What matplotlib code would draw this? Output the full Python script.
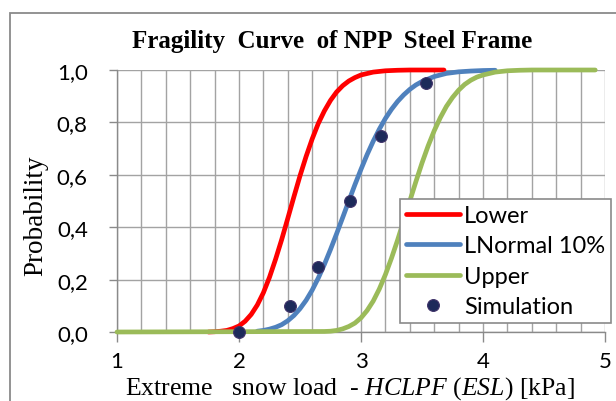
import matplotlib
matplotlib.use("Agg")
import matplotlib.pyplot as plt
from matplotlib.patches import Rectangle
from matplotlib.ticker import MultipleLocator, FixedLocator

# -----------------------------------------------------------------------------
# Fragility curve data
# -----------------------------------------------------------------------------
lower_x = [1.75, 1.80, 1.85, 1.90, 1.95, 2.00, 2.05, 2.10, 2.15, 2.20, 2.25,
           2.30, 2.35, 2.40, 2.45, 2.50, 2.55, 2.60, 2.65, 2.70, 2.75, 2.80,
           2.85, 2.90, 2.95, 3.00, 3.10, 3.20, 3.30, 3.40, 3.50, 3.68]
lower_y = [0.000, 0.001, 0.003, 0.006, 0.013, 0.023, 0.041, 0.067, 0.103,
           0.150, 0.209, 0.278, 0.353, 0.434, 0.516, 0.596, 0.670, 0.737,
           0.796, 0.844, 0.884, 0.916, 0.940, 0.958, 0.971, 0.981, 0.992,
           0.997, 0.999, 1.000, 1.000, 1.000]

lnormal_x = [2.15, 2.20, 2.25, 2.30, 2.35, 2.40, 2.45, 2.50, 2.55, 2.60, 2.65,
             2.70, 2.75, 2.80, 2.85, 2.90, 2.95, 3.00, 3.05, 3.10, 3.15, 3.20,
             3.25, 3.30, 3.35, 3.40, 3.45, 3.50, 3.60, 3.70, 3.80, 3.90, 4.00,
             4.10]
lnormal_y = [0.003, 0.006, 0.011, 0.018, 0.028, 0.043, 0.063, 0.089, 0.121,
             0.160, 0.206, 0.258, 0.315, 0.375, 0.437, 0.500, 0.562, 0.621,
             0.677, 0.728, 0.774, 0.815, 0.850, 0.880, 0.905, 0.926, 0.943,
             0.956, 0.975, 0.987, 0.993, 0.996, 0.998, 0.999]

upper_x = [1.00, 2.70, 2.75, 2.80, 2.85, 2.90, 2.95, 3.00, 3.05, 3.10, 3.15,
           3.20, 3.25, 3.30, 3.35, 3.40, 3.45, 3.50, 3.55, 3.60, 3.65, 3.70,
           3.75, 3.80, 3.85, 3.90, 3.95, 4.00, 4.10, 4.20, 4.30, 4.40, 4.92]
upper_y = [0.000, 0.002, 0.003, 0.006, 0.012, 0.021, 0.034, 0.054, 0.082,
           0.118, 0.164, 0.219, 0.282, 0.351, 0.425, 0.500, 0.574, 0.645,
           0.710, 0.768, 0.818, 0.861, 0.895, 0.923, 0.945, 0.961, 0.973,
           0.981, 0.992, 0.997, 0.999, 1.000, 1.000]

sim_x = [2.00, 2.42, 2.65, 2.91, 3.16, 3.53]
sim_y = [0.00, 0.10, 0.25, 0.50, 0.75, 0.95]

x_ticks = [1, 2, 3, 4, 5]
y_ticks = [0.0, 0.2, 0.4, 0.6, 0.8, 1.0]
y_tick_labels = ["0,0", "0,2", "0,4", "0,6", "0,8", "1,0"]

# -----------------------------------------------------------------------------
# Figure and axes
# -----------------------------------------------------------------------------
plt.rcParams["mathtext.fontset"] = "custom"
plt.rcParams["mathtext.rm"] = "Liberation Serif"
plt.rcParams["mathtext.it"] = "Liberation Serif:italic"

SANS = "Lato"
SERIF = "Liberation Serif"
GRID = "#a3a3a3"

fig = plt.figure(figsize=(6.16, 4.02), dpi=100)
ax = fig.add_axes([117 / 616, 69 / 402, 488 / 616, 262 / 402])

# outer chart-area border (extends past the cropped image on right/bottom)
fig.patches.append(Rectangle((9.5 / 616, -0.2), 2.0, 0.2 + (1 - 14 / 402),
                             transform=fig.transFigure, fill=False,
                             edgecolor="#8a8a8a", linewidth=1.3))

ax.plot(lower_x, lower_y, color="#ff0000", lw=3.4, label="Lower",
        solid_capstyle="round", clip_on=False, zorder=3)
ax.plot(lnormal_x, lnormal_y, color="#4f81bd", lw=3.4, label="LNormal 10%",
        solid_capstyle="round", clip_on=False, zorder=4)
ax.plot(upper_x, upper_y, color="#9bbb59", lw=3.4, label="Upper",
        solid_capstyle="round", clip_on=False, zorder=5)
ax.plot(sim_x, sim_y, ls="none", marker="o", ms=8.5, mfc="#1d2a5a",
        mec="#40336a", mew=0.8, label="Simulation", clip_on=False, zorder=6)

ax.set_xlim(1, 5)
ax.set_ylim(0, 1)

ax.xaxis.set_major_locator(FixedLocator(x_ticks))
ax.xaxis.set_minor_locator(MultipleLocator(0.2))
ax.set_yticks(y_ticks)
ax.set_yticklabels(y_tick_labels)
ax.set_xticklabels([str(v) for v in x_ticks])

ax.grid(True, which="both", axis="x", color=GRID, lw=1.0)
ax.grid(True, which="major", axis="y", color=GRID, lw=1.0)
ax.set_axisbelow(True)

for side in ["top", "right"]:
    ax.spines[side].set_visible(False)
for side in ["left", "bottom"]:
    ax.spines[side].set_color("#8a8a8a")
    ax.spines[side].set_linewidth(1.0)

ax.tick_params(axis="y", which="major", direction="out", length=6, width=1,
               color="#8a8a8a", pad=15, labelsize=16, labelcolor="black")
ax.tick_params(axis="x", which="major", direction="out", length=7.5, width=1,
               color="#8a8a8a", pad=6, labelsize=16, labelcolor="black")
ax.tick_params(axis="x", which="minor", length=0)
for lbl in ax.get_xticklabels() + ax.get_yticklabels():
    lbl.set_fontfamily(SANS)

# -----------------------------------------------------------------------------
# Titles and labels
# -----------------------------------------------------------------------------
fig.text(332 / 616, 1 - 48 / 402, "Fragility  Curve  of NPP  Steel Frame",
         ha="center", va="baseline", fontsize=18, fontweight="bold",
         family=SERIF)
fig.text(350 / 616, 1 - 395 / 402,
         r"Extreme   snow load  - $HCLPF$ ($ESL$) [kPa]",
         ha="center", va="baseline", fontsize=18.5, family=SERIF)
fig.text(36 / 616, 1 - 216 / 402, "Probability", rotation=90,
         ha="center", va="center", fontsize=19.5, family=SERIF)

leg = ax.legend(loc="upper left", bbox_to_anchor=(400 / 616, 1 - 200 / 402),
                bbox_transform=fig.transFigure, borderaxespad=0,
                prop={"family": SANS, "size": 17}, frameon=True,
                fancybox=False, framealpha=1, edgecolor="#8a8a8a",
                handlelength=2.3, handletextpad=0.17, labelspacing=0.4,
                borderpad=0.25, numpoints=1)
leg.get_frame().set_linewidth(1.2)

fig.savefig("out.png", dpi=100)
